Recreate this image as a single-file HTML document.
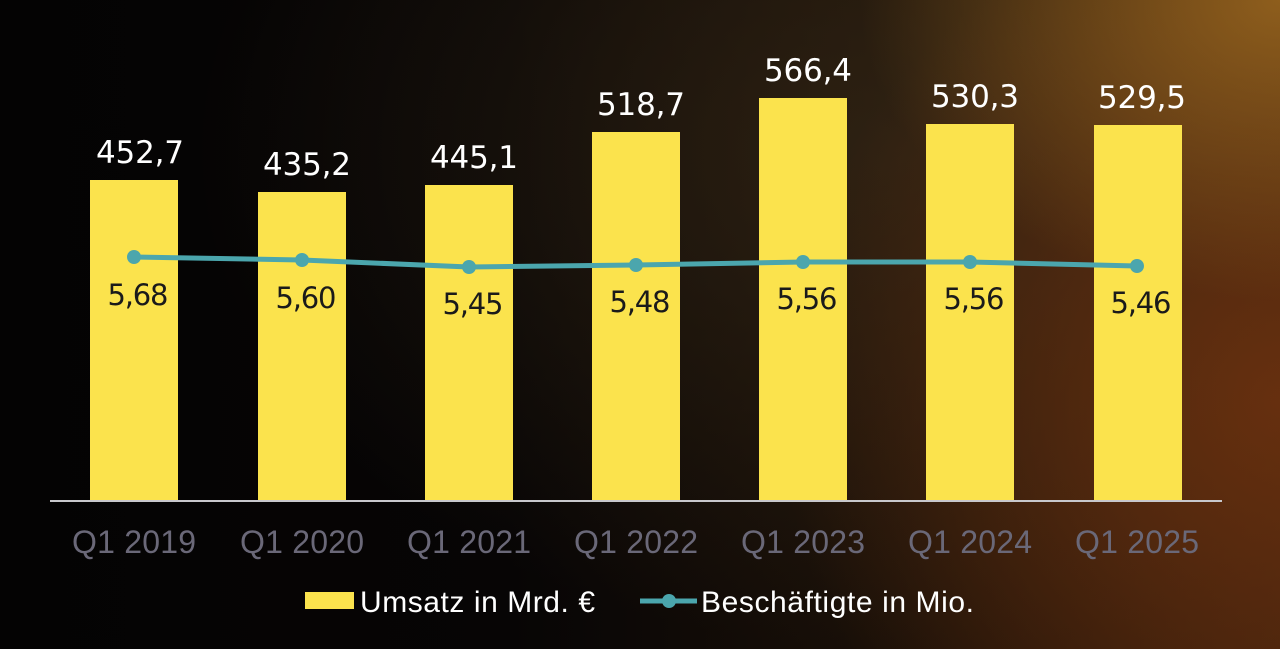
<!DOCTYPE html>
<html><head><meta charset="utf-8"><style>
html,body{margin:0;padding:0}
body{width:1280px;height:649px;overflow:hidden;position:relative;font-family:"DejaVu Sans","Liberation Sans",sans-serif;
background:
radial-gradient(ellipse 420px 300px at 1280px 0px, rgba(150,100,30,0.9), rgba(120,80,30,0) 100%),
radial-gradient(ellipse 500px 500px at 1280px 400px, rgba(110,50,15,0.85), rgba(80,40,15,0) 100%),
radial-gradient(ellipse 700px 500px at 900px 150px, rgba(60,45,25,0.6), rgba(40,30,20,0) 100%),
linear-gradient(90deg,#040303 0%,#070505 40%,#1a1008 70%,#3a1f0c 100%);}
svg{position:absolute;left:0;top:0}
</style></head><body>
<svg width="1280" height="649" xmlns="http://www.w3.org/2000/svg" font-family="DejaVu Sans, Liberation Sans, sans-serif">
<g fill="#fbe34d">
<rect x="90" y="180" width="88" height="321"/>
<rect x="258" y="192" width="88" height="309"/>
<rect x="425" y="185" width="88" height="316"/>
<rect x="592" y="132" width="88" height="369"/>
<rect x="759" y="98" width="88" height="403"/>
<rect x="926" y="124" width="88" height="377"/>
<rect x="1094" y="125" width="88" height="376"/>
</g>
<line x1="50" y1="501" x2="1222" y2="501" stroke="#c8c8cc" stroke-width="2"/>
<g fill="#fff" font-size="31" text-anchor="middle">
<text x="140" y="163" textLength="88">452,7</text>
<text x="307" y="175" textLength="88">435,2</text>
<text x="474" y="168" textLength="88">445,1</text>
<text x="641" y="115" textLength="88">518,7</text>
<text x="808" y="81" textLength="88">566,4</text>
<text x="975" y="107" textLength="88">530,3</text>
<text x="1142" y="108" textLength="88">529,5</text>
</g>
<polyline points="134,257 302,260 469,267 636,265 803,262 970,262 1137,266" fill="none" stroke="#4ba6ad" stroke-width="5"/>
<g fill="#4ba6ad">
<circle cx="134" cy="257" r="7"/><circle cx="302" cy="260" r="7"/><circle cx="469" cy="267" r="7"/>
<circle cx="636" cy="265" r="7"/><circle cx="803" cy="262" r="7"/><circle cx="970" cy="262" r="7"/><circle cx="1137" cy="266" r="7"/>
</g>
<g fill="#1a1a1a" font-size="29" text-anchor="middle">
<text x="138" y="305" textLength="61">5,68</text>
<text x="306" y="308" textLength="61">5,60</text>
<text x="473" y="314" textLength="61">5,45</text>
<text x="640" y="312" textLength="61">5,48</text>
<text x="807" y="309" textLength="61">5,56</text>
<text x="974" y="309" textLength="61">5,56</text>
<text x="1141" y="313" textLength="61">5,46</text>
</g>
<g fill="#6a6878" font-size="32" text-anchor="middle" font-family="Liberation Sans, sans-serif">
<text x="134" y="553" textLength="124">Q1 2019</text>
<text x="302" y="553" textLength="124">Q1 2020</text>
<text x="469" y="553" textLength="124">Q1 2021</text>
<text x="636" y="553" textLength="124">Q1 2022</text>
<text x="803" y="553" textLength="124">Q1 2023</text>
<text x="970" y="553" textLength="124">Q1 2024</text>
<text x="1137" y="553" textLength="124">Q1 2025</text>
</g>
<rect x="305" y="592" width="49" height="17" fill="#fbe34d"/>
<text x="360" y="612" fill="#fff" font-size="30" font-family="Liberation Sans, sans-serif" textLength="235">Umsatz in Mrd. €</text>
<line x1="640" y1="601" x2="697" y2="601" stroke="#4ba6ad" stroke-width="5"/>
<circle cx="669" cy="601" r="7" fill="#4ba6ad"/>
<text x="701" y="612" fill="#fff" font-size="30" font-family="Liberation Sans, sans-serif" textLength="273">Beschäftigte in Mio.</text>
</svg>
</body></html>
